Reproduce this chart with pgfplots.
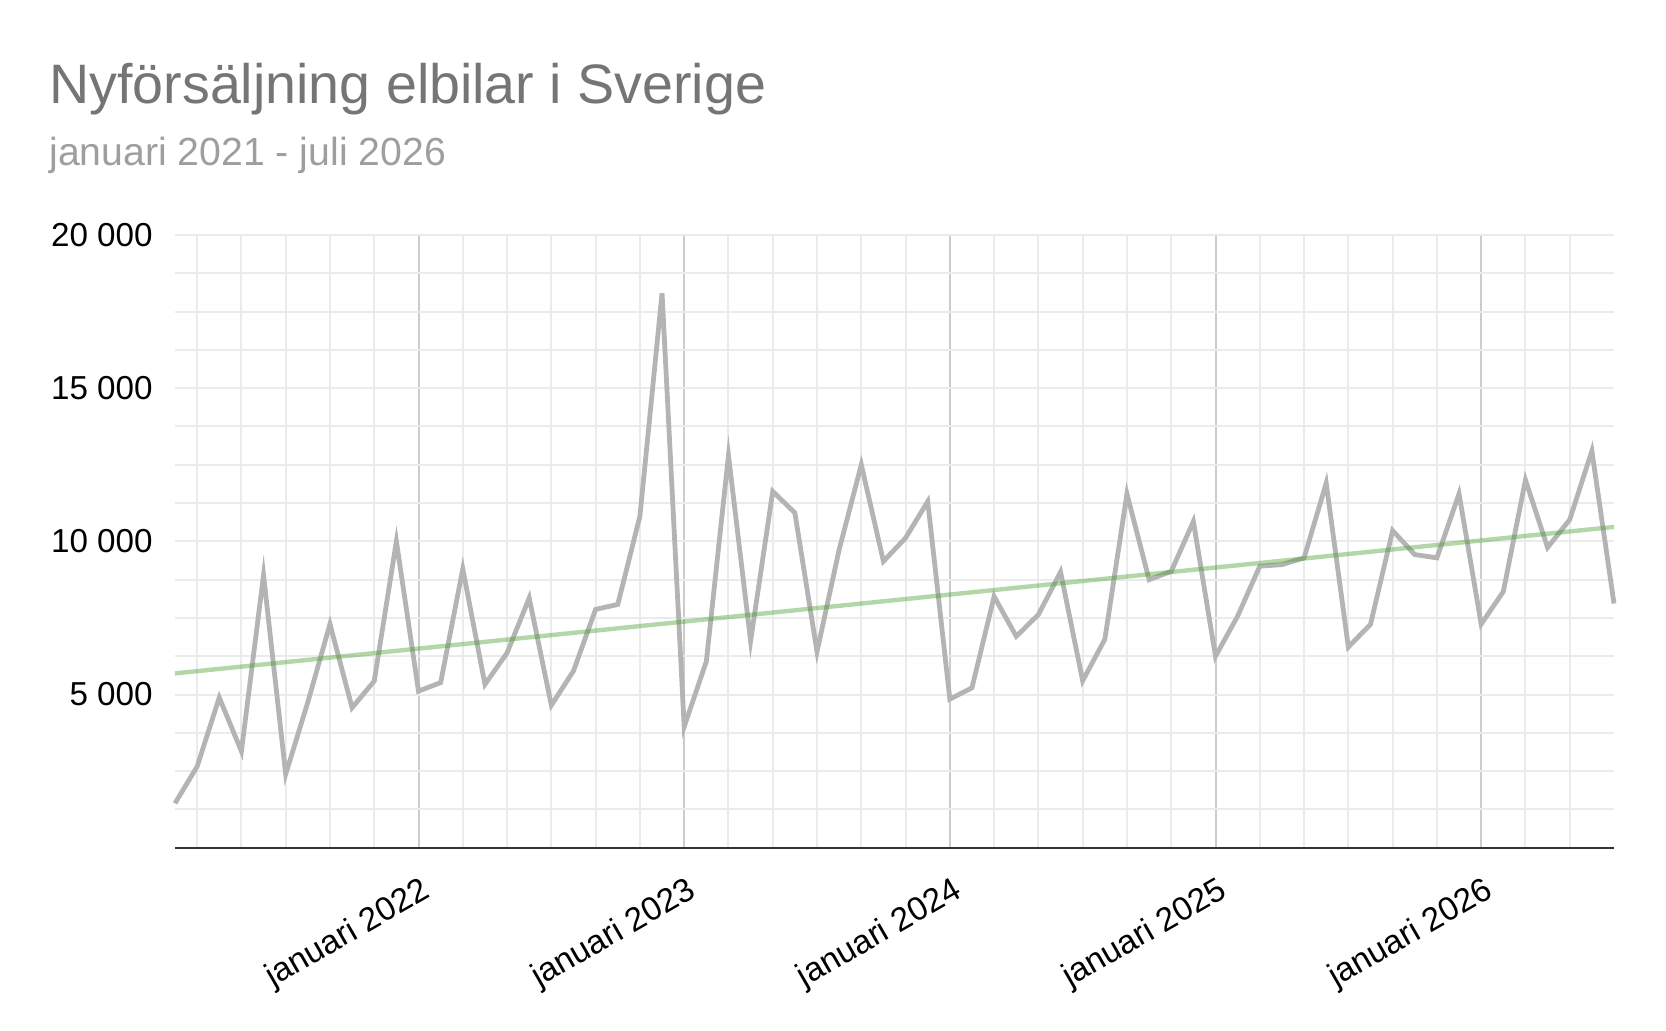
\documentclass[border=0pt]{standalone}
\usepackage{fontspec}
\setmainfont{Liberation Sans}
\usepackage{pgfplots}
\pgfplotsset{compat=1.18}
\definecolor{linegray}{HTML}{B4B4B4}
\definecolor{trendgreen}{HTML}{4BA030}
\definecolor{gridlight}{HTML}{EBEBEB}
\definecolor{griddark}{HTML}{CCCCCC}
\definecolor{titlegray}{HTML}{757575}
\definecolor{subgray}{HTML}{9E9E9E}
\definecolor{axisdark}{HTML}{333333}
\begin{document}
\begin{tikzpicture}
\path[use as bounding box] (0,0) rectangle (833pt,515pt);
\node[anchor=base west, inner sep=0pt, text=titlegray, font=\fontsize{27.8}{32}\selectfont] at (24.5pt,463.4pt) {Nyförsäljning elbilar i Sverige};
\node[anchor=base west, inner sep=0pt, text=subgray, font=\fontsize{19.6}{23}\selectfont] at (24.5pt,432pt) {januari 2021 - juli 2026};
\begin{axis}[
  at={(87.5pt,91.15pt)}, anchor=south west,
  scale only axis, width=719.5pt, height=306.35pt,
  xmin=1, xmax=66, ymin=0, ymax=20000,
  scaled y ticks=false, scaled x ticks=false,
  axis x line*=bottom, axis y line*=left,
  x axis line style={draw=axisdark, line width=1.2pt, -},
  y axis line style={draw=none},
  major tick length=0pt, minor tick length=0pt,
  xtick={12,24,36,48,60},
  xticklabels={januari 2022,januari 2023,januari 2024,januari 2025,januari 2026},
  minor xtick={2,4,6,8,10,14,16,18,20,22,26,28,30,32,34,38,40,42,44,46,50,52,54,56,58,62,64},
  ytick={5000,10000,15000,20000},
  yticklabels={5 000,10 000,15 000,20 000},
  minor ytick={1250,2500,3750,5000,6250,7500,8750,10000,11250,12500,13750,15000,16250,17500,18750,20000},
  xmajorgrids=true, xminorgrids=true, ymajorgrids=false, yminorgrids=true,
  major grid style={draw=griddark, line width=1pt},
  minor grid style={draw=gridlight, line width=1pt},
  yticklabel style={font=\fontsize{16.6}{19}\selectfont, text=black, anchor=east, inner sep=0pt, xshift=-11pt},
  xticklabel style={font=\fontsize{16.6}{19}\selectfont, text=black, anchor=north east, inner sep=0pt, xshift=0.7pt, yshift=-13.5pt, rotate=30},
  clip=false,
]
\addplot[draw=linegray, line width=2.4pt, line join=miter, mark=none] coordinates {
(1,1450) (2,2650) (3,4900) (4,3150) (5,8900) (6,2400) (7,4750) (8,7300) (9,4570) (10,5440)
(11,10000) (12,5110) (13,5390) (14,9100) (15,5330) (16,6360) (17,8150) (18,4650) (19,5770) (20,7780)
(21,7940) (22,10820) (23,18100) (24,3950) (25,6080) (26,12800) (27,6750) (28,11630) (29,10930) (30,6400)
(31,9730) (32,12500) (33,9350) (34,10110) (35,11300) (36,4850) (37,5220) (38,8200) (39,6900) (40,7610)
(41,9000) (42,5450) (43,6800) (44,11550) (45,8750) (46,9020) (47,10650) (48,6250) (49,7560) (50,9190)
(51,9240) (52,9460) (53,11900) (54,6550) (55,7290) (56,10350) (57,9570) (58,9460) (59,11550) (60,7300)
(61,8360) (62,12000) (63,9800) (64,10710) (65,12950) (66,7970)
};
\addplot[draw=trendgreen, draw opacity=0.42, line width=2.2pt, mark=none] coordinates {(1,5690) (66,10470)};
\end{axis}
\end{tikzpicture}
\end{document}
